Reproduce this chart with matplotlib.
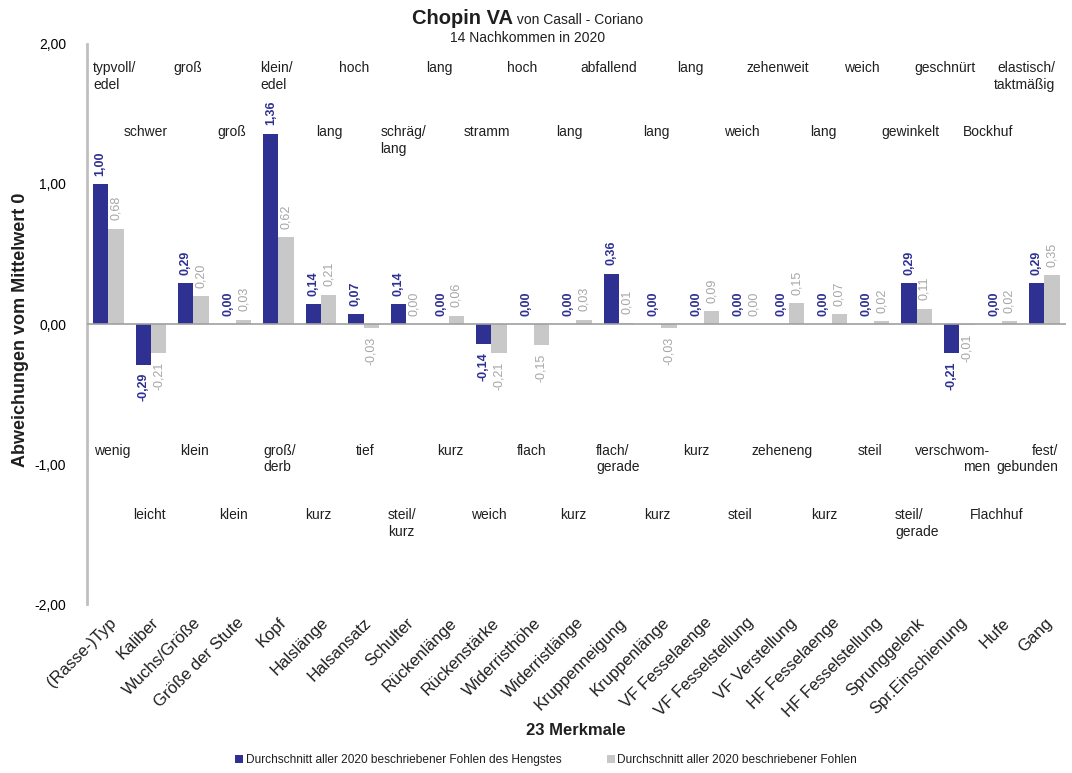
import matplotlib
matplotlib.use("Agg")
import matplotlib.pyplot as plt
from matplotlib.patches import Patch
import numpy as np

plt.rcParams['font.family'] = ['Liberation Sans', 'DejaVu Sans']

# --- data -------------------------------------------------------------
merkmale = ["(Rasse-)Typ", "Kaliber", "Wuchs/Größe", "Größe der Stute", "Kopf",
            "Halslänge", "Halsansatz", "Schulter", "Rückenlänge", "Rückenstärke",
            "Widerristhöhe", "Widerristlänge", "Kruppenneigung", "Kruppenlänge",
            "VF Fesselaenge", "VF Fesselstellung", "VF Verstellung", "HF Fesselaenge",
            "HF Fesselstellung", "Sprunggelenk", "Spr.Einschienung", "Hufe", "Gang"]

hengst = [1.00, -0.29, 0.29, 0.00, 1.36, 0.14, 0.07, 0.14, 0.00, -0.14, 0.00, 0.00,
          0.36, 0.00, 0.00, 0.00, 0.00, 0.00, 0.00, 0.29, -0.21, 0.00, 0.29]
alle = [0.68, -0.21, 0.20, 0.03, 0.62, 0.21, -0.03, 0.00, 0.06, -0.21, -0.15, 0.03,
        0.01, -0.03, 0.09, 0.00, 0.15, 0.07, 0.02, 0.11, -0.01, 0.02, 0.35]

oben = ["typvoll/\nedel", "schwer", "groß", "groß", "klein/\nedel", "lang", "hoch",
        "schräg/\nlang", "lang", "stramm", "hoch", "lang", "abfallend", "lang", "lang",
        "weich", "zehenweit", "lang", "weich", "gewinkelt", "geschnürt", "Bockhuf",
        "elastisch/\ntaktmäßig"]
unten = ["wenig", "leicht", "klein", "klein", "groß/\nderb", "kurz", "tief",
         "steil/\nkurz", "kurz", "weich", "flach", "kurz", "flach/\ngerade", "kurz",
         "kurz", "steil", "zeheneng", "kurz", "steil", "steil/\ngerade",
         "verschwom-\nmen", "Flachhuf", "fest/\ngebunden"]

legend_labels = ["Durchschnitt aller 2020 beschriebener Fohlen des Hengstes",
                 "Durchschnitt aller 2020 beschriebener Fohlen"]

# --- text placement for the descriptor words (x in category units) -----
oben_x = [-0.36, 0.35, 1.54, 2.56, 3.57, 4.88, 5.42, 6.39, 7.47, 8.36, 9.37, 10.52,
          11.09, 12.57, 13.37, 14.47, 15.01, 16.49, 17.29, 18.18, 18.94, 20.09, 22.25]
oben_ha = ["left"] * 22 + ["right"]
unten_x = [-0.34, 0.58, 1.69, 2.60, 3.64, 4.62, 5.82, 6.57, 7.73, 8.52, 9.61, 10.62,
           11.46, 12.59, 13.51, 14.56, 15.11, 16.52, 17.62, 18.49, 20.72, 20.25, 22.32]
unten_ha = ["left"] * 20 + ["right", "left", "right"]

BLUE = "#2E3192"
GRAY = "#C8C8C8"
GRAY_TXT = "#A6A6A6"
TXT = "#1F1F1F"

fig = plt.figure(figsize=(10.72, 7.73), dpi=100)
ax = fig.add_axes([0.0812, 0.2186, 0.9128, 0.7245])

x = np.arange(len(merkmale))
bw = 0.36
ax.bar(x - bw / 2, hengst, width=bw, color=BLUE, zorder=3)
ax.bar(x + bw / 2, alle, width=bw, color=GRAY, zorder=3)

def fmt(v):
    return f"{v:.2f}".replace(".", ",")

pad = 0.06
for xi, v in zip(x, hengst):
    if v < 0:
        ax.text(xi - bw / 2, v - pad, fmt(v), rotation=90, ha="center", va="top",
                fontsize=9, fontweight="bold", color=BLUE)
    else:
        ax.text(xi - bw / 2, v + pad, fmt(v), rotation=90, ha="center", va="bottom",
                fontsize=9, fontweight="bold", color=BLUE)
for xi, v in zip(x, alle):
    if v < 0:
        ax.text(xi + bw / 2, v - pad, fmt(v), rotation=90, ha="center", va="top",
                fontsize=9, color=GRAY_TXT)
    else:
        ax.text(xi + bw / 2, v + pad, fmt(v), rotation=90, ha="center", va="bottom",
                fontsize=9, color=GRAY_TXT)

# descriptor words: even features in the outer row, odd ones in the inner row
for i, (t, xp, ha) in enumerate(zip(oben, oben_x, oben_ha)):
    y = 1.88 if i % 2 == 0 else 1.42
    ax.text(xp, y, t, ha=ha, va="top", fontsize=10, color=TXT, linespacing=1.25,
            multialignment=ha)
for i, (t, xp, ha) in enumerate(zip(unten, unten_x, unten_ha)):
    y = -0.855 if i % 2 == 0 else -1.315
    ax.text(xp, y, t, ha=ha, va="top", fontsize=10, color=TXT, linespacing=1.25,
            multialignment=ha)

ax.axhline(0, color="#A0A0A0", lw=1.2, zorder=4)
ax.set_xlim(-0.5, len(merkmale) - 0.5)
ax.set_ylim(-2, 2)
ax.set_yticks([-2, -1, 0, 1, 2])
ax.set_yticklabels([fmt(v) for v in [-2, -1, 0, 1, 2]], fontsize=12, color=TXT)
ax.set_xticks(x)
ax.set_xticklabels(merkmale, rotation=45, ha="right", rotation_mode="anchor",
                   fontsize=12, color=TXT)
ax.tick_params(axis="y", length=0, pad=15)
ax.tick_params(axis="x", length=0, pad=8)
for s in ["top", "right", "bottom"]:
    ax.spines[s].set_visible(False)
ax.spines["left"].set_color("#C0C0C0")
ax.spines["left"].set_linewidth(2)
ax.spines["left"].set_position(("data", -0.5))

ax.set_xlabel("23 Merkmale", fontsize=12, fontweight="bold", color=TXT, labelpad=2)
fig.text(0.019, 1 - 330 / 773, "Abweichungen vom Mittelwert 0", rotation=90,
         ha="center", va="center", fontsize=13, fontweight="bold", color=TXT)

# title: bold stallion name followed by parentage in regular weight
t1 = fig.text(0.0, 1 - 18 / 773, "Chopin VA", fontsize=14.5, fontweight="bold",
              color=TXT, ha="left", va="center")
t2 = fig.text(0.0, 1 - 18 / 773, " von Casall - Coriano", fontsize=10,
              color=TXT, ha="left", va="center")
fig.canvas.draw()
r = fig.canvas.get_renderer()
w1 = t1.get_window_extent(r).width
w2 = t2.get_window_extent(r).width
cx = 528
start = cx - (w1 + w2) / 2
W = fig.bbox.width
t1.set_x(start / W)
t2.set_x((start + w1) / W)
t2.set_y(1 - 19.5 / 773)
fig.text(cx / W, 1 - 38 / 773, "14 Nachkommen in 2020", fontsize=10, color=TXT,
         ha="center", va="center")

handles = [Patch(facecolor=BLUE, edgecolor="none"), Patch(facecolor=GRAY, edgecolor="none")]
fig.legend(handles, legend_labels, loc="center", bbox_to_anchor=(546 / 1072, 1 - 760 / 773),
           ncol=2, frameon=False, fontsize=8.6, handlelength=0.7, handleheight=0.7,
           handletextpad=0.2, columnspacing=3.8, labelcolor=TXT)

fig.savefig("out.png", dpi=100)
